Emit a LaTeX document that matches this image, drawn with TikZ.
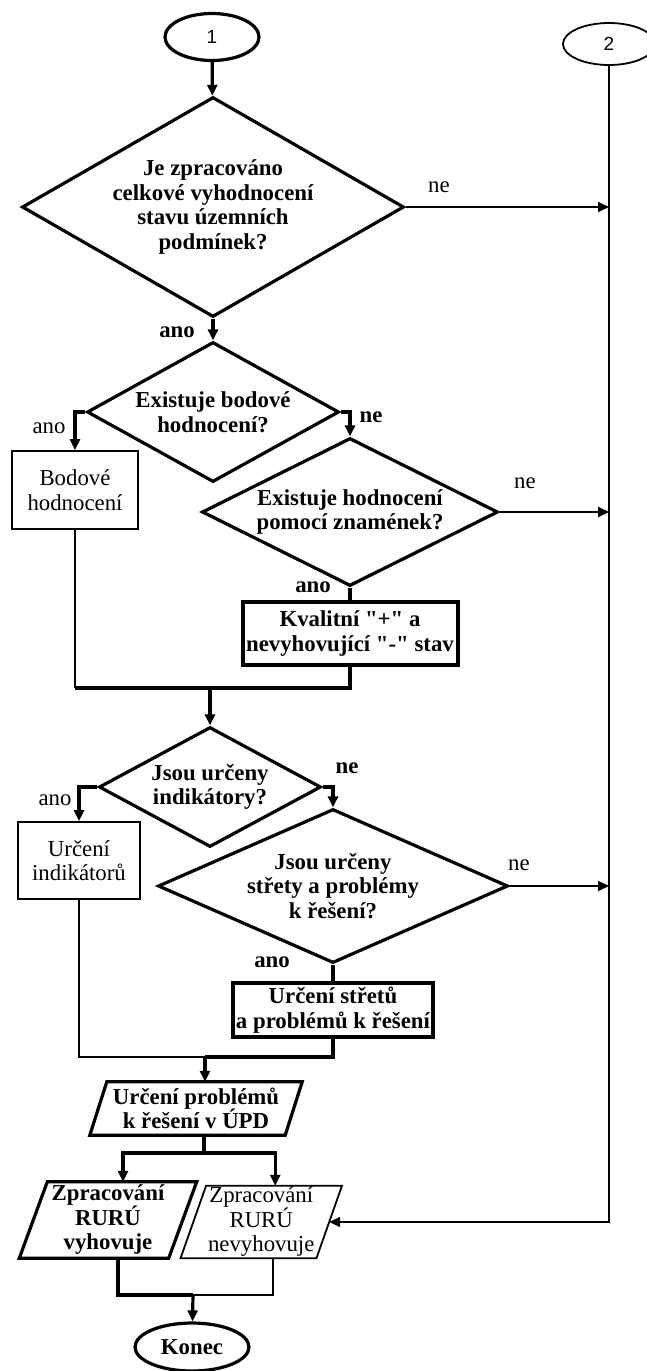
\documentclass[tikz,border=0pt]{standalone}
\usepackage{fontspec}
\setmainfont{Liberation Serif}[Ligatures=TeXOff]
\newfontfamily\numfont{Liberation Sans}
\usetikzlibrary{shapes.geometric,arrows.meta,calc}

% slanted (parallelogram) frame around a rectangular node: #1 node, #2 half offset, #3 line style
\newcommand{\slantframe}[3]{%
  \draw[#3] ($(#1.south west)+(-#2,0)$) -- ($(#1.south east)+(-#2,0)$)
    -- ($(#1.north east)+(#2,0)$) -- ($(#1.north west)+(#2,0)$) -- cycle;}

\begin{document}
\begin{tikzpicture}[x=1pt,y=-1pt,
  heavy/.style={line width=3.2pt},
  light/.style={line width=1.8pt},
  boxheavy/.style={line width=4pt},
  arr/.style={-{Triangle[length=11pt,width=10pt]}},
  txt/.style={font=\fontsize{22.8}{24.5}\selectfont, inner sep=0pt, align=center},
  txtb/.style={font=\fontsize{22.8}{24.5}\selectfont\bfseries, inner sep=0pt, align=center},
  decision/.style={draw, diamond, heavy, inner sep=0pt},
  terminal/.style={draw, ellipse, inner sep=0pt},
  proc/.style={draw, rectangle, inner sep=0pt},
  ioblock/.style={rectangle, inner sep=0pt},
]
\useasboundingbox (0,0) rectangle (646,1371);

% connectors of the two entry points
\node[terminal, heavy, minimum width=94pt, minimum height=47pt,
      font=\numfont\fontsize{19}{22}\selectfont] (e1) at (212,37) {1};
\node[terminal, light, minimum width=92pt, minimum height=42pt,
      font=\numfont\fontsize{19}{22}\selectfont] (e2) at (609,44) {2};

% decision 1
\node[decision, minimum width=382pt, minimum height=220pt] (d1) at (213,207) {};
\node[txtb] (d1t) at (d1) {Je zpracováno\\celkové vyhodnocení\\stavu územních\\podmínek?};

% decision 2 with the point assessment
\node[decision, minimum width=252pt, minimum height=140pt] (d2) at (213,412) {};
\node[txtb] (d2t) at (d2) {Existuje bodové\\hodnocení?};
\node[proc, light, minimum width=126pt, minimum height=78pt, txt] (bod) at (75,490) {Bodové\\hodnocení};

% decision 3 with the sign assessment
\node[decision, minimum width=296pt, minimum height=148pt] (d3) at (350,512) {};
\node[txtb] (d3t) at (d3) {Existuje hodnocení\\pomocí znamének?};
\node[proc, boxheavy, minimum width=215pt, minimum height=63pt, txtb] (kv) at (350,633.5)
  {Kvalitní "+" a\\nevyhovující "-" stav};

% decision 4 with the indicators
\node[decision, minimum width=222pt, minimum height=120pt] (d4) at (210,787) {};
\node[txtb] (d4t) at (d4) {Jsou určeny\\indikátory?};
\node[proc, light, minimum width=122pt, minimum height=77pt, txt] (ind) at (79,860.5) {Určení\\indikátorů};

% decision 5 with the conflicts
\node[decision, minimum width=350pt, minimum height=154pt] (d5) at (333,886) {};
\node[txtb] (d5t) at (d5) {Jsou určeny\\střety a problémy\\k řešení?};
\node[proc, boxheavy, minimum width=200pt, minimum height=54pt, txtb] (st) at (333,1010)
  {Určení střetů\\a problémů k řešení};

% input/output blocks
\node[ioblock, minimum width=195pt, minimum height=53pt, txtb] (pp) at (196,1108.5)
  {Určení problémů\\k řešení v ÚPD};
\slantframe{pp}{8.5}{heavy}
\node[ioblock, minimum width=149pt, minimum height=76pt, txtb] (lp) at (108,1220)
  {Zpracování\\RURÚ\\vyhovuje};
\slantframe{lp}{14}{heavy}
\node[ioblock, minimum width=135.5pt, minimum height=72pt, txt] (rp) at (261.25,1222)
  {Zpracování\\RURÚ\\nevyhovuje};
\slantframe{rp}{12.75}{light}

\node[terminal, heavy, minimum width=114pt, minimum height=48pt, txtb] (kon) at (192,1347) {Konec};

% branch labels
\node[txt]  (l1) at (439,187) {ne};
\node[txtb] (l2) at (177,332) {ano};
\node[txt]  (l3) at (49,428) {ano};
\node[txtb] (l4) at (371,417) {ne};
\node[txt]  (l5) at (525,483) {ne};
\node[txtb] (l6) at (313,587) {ano};
\node[txtb] (l7) at (347,768) {ne};
\node[txt]  (l8) at (55,800) {ano};
\node[txt]  (l9) at (519,865) {ne};
\node[txtb] (l10) at (272,962) {ano};

% junction points
\coordinate (m1) at (210,688);
\coordinate (m2) at (205,1057);
\coordinate (sp) at (204,1153);
\coordinate (m3) at (193,1295);

% main flow
\draw[heavy,arr] (e1) -- (d1);
\draw[heavy,arr] (d1) -- (d2);
\draw[heavy,arr] (d2.west) -| (bod);
\draw[heavy,arr] (d2.east) -| (d3);
\draw[heavy] (d3) -- (kv);
\draw[light] (bod.south) -- (bod.south |- m1);
\draw[heavy] (bod.south |- m1) -- (kv.south |- m1) -- (kv.south);
\draw[heavy,arr] (m1) -- (d4);
\draw[heavy,arr] (d4.west) -| (ind);
\draw[heavy,arr] (d4.east) -| (d5);
\draw[heavy] (d5) -- (st);
\draw[light] (ind.south) -- (ind.south |- m2) -- (m2);
\draw[heavy] (m2) -- (st.south |- m2) -- (st.south);
\draw[heavy,arr] (m2) -- (m2 |- pp.north);
\draw[heavy] (sp |- pp.south) -- (sp);
\draw[heavy,arr] (sp) -| ($(lp.north)+(15,0)$);
\draw[heavy,arr] (sp) -| ($(rp.north)+(14,0)$);
\draw[heavy] ($(lp.south)+(10,0)$) |- (m3);
\draw[light] ($(rp.south)+(12,0)$) |- (m3);
\draw[heavy,arr] (m3) -- (kon);

% "ne" exits to the collector line of entry point 2
\draw[light,arr] (d1.east) -- (d1.east -| e2.south);
\draw[light,arr] (d3.east) -- (d3.east -| e2.south);
\draw[light,arr] (d5.east) -- (d5.east -| e2.south);
\draw[light,arr] (e2) |- (rp.east);
\end{tikzpicture}
\end{document}
